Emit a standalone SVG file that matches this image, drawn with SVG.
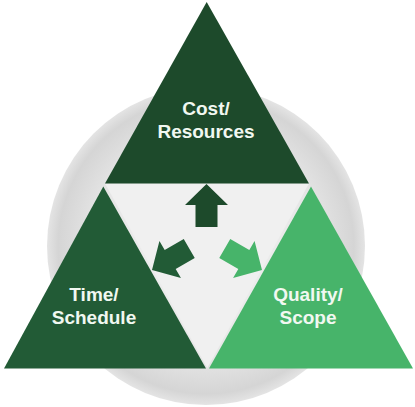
<svg xmlns="http://www.w3.org/2000/svg" width="415" height="407" viewBox="0 0 415 407">
  <defs>
    <radialGradient id="circ" cx="50%" cy="50%" r="50%">
      <stop offset="0" stop-color="#f2f2f2"/>
      <stop offset="0.7" stop-color="#e6e6e6"/>
      <stop offset="0.93" stop-color="#d5d5d5"/>
      <stop offset="1" stop-color="#e4e4e4"/>
    </radialGradient>
    <path id="arrow" d="M0,0 L21.5,21 L11,21 L11,43 L-11,43 L-11,21 L-21.5,21 Z"/>
    <style>
      .lbl { font-family: "Liberation Sans", Arial, sans-serif; font-weight: bold; font-size: 19px; fill: #f1f8f1; text-anchor: middle; }
      .dark { fill: #1d4a2b; }
      .mid { fill: #225b36; }
      .light { fill: #47b46a; }
    </style>
  </defs>
  <rect width="415" height="407" fill="#ffffff"/>
  <g id="background">
    <circle cx="206" cy="246" r="159" fill="url(#circ)"/>
    <polygon points="105,183.5 309,183.5 207.3,368" fill="#f0f0f0"/>
  </g>
  <g id="cost">
    <polygon class="dark" points="206.7,2 309,183.5 105,183.5"/>
    <text class="lbl" x="206" y="115">Cost/</text>
    <text class="lbl" x="206" y="138">Resources</text>
  </g>
  <g id="time">
    <polygon class="mid" points="103.3,186.5 206,368.5 4,368.5"/>
    <text class="lbl" x="94" y="301">Time/</text>
    <text class="lbl" x="94" y="324">Schedule</text>
  </g>
  <g id="quality">
    <polygon class="light" points="311,186.5 413,368.5 209,368.5"/>
    <text class="lbl" x="308" y="301">Quality/</text>
    <text class="lbl" x="308" y="324">Scope</text>
  </g>
  <g id="connectors">
    <use href="#arrow" class="dark" transform="translate(206.5,184)"/>
    <use href="#arrow" class="mid" transform="translate(152,270) rotate(-120)"/>
    <use href="#arrow" class="light" transform="translate(262,270) rotate(120)"/>
  </g>
</svg>
